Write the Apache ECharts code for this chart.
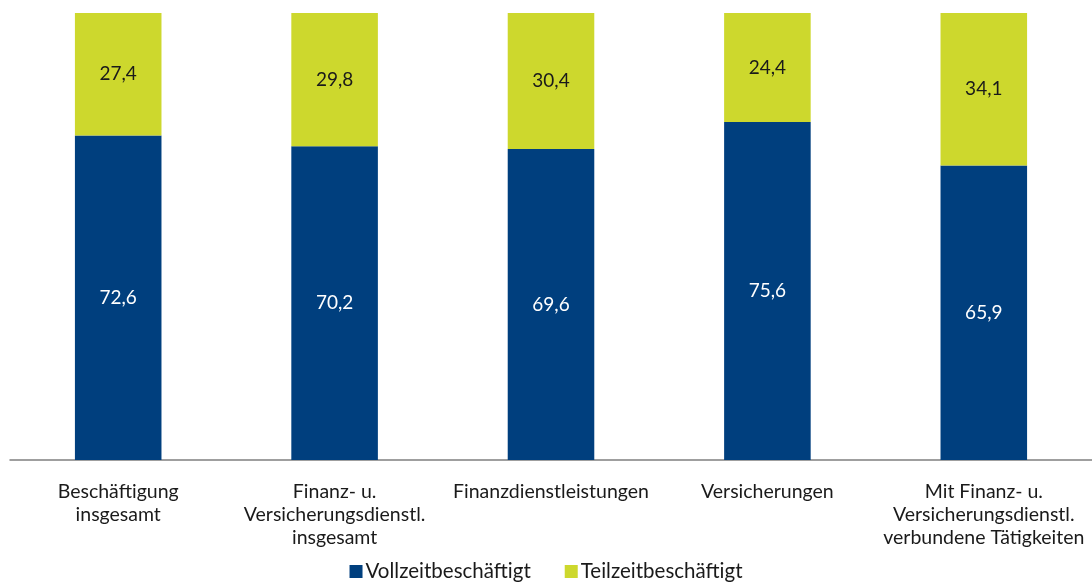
<!DOCTYPE html>
<html><head><meta charset="utf-8">
<script src="https://cdn.jsdelivr.net/npm/echarts@6/dist/echarts.min.js"></script>
<style>html,body{margin:0;padding:0;background:#fff}#c{width:1092px;height:584px}</style>
</head><body><div id="c"></div>
<script>
const categories = ["Beschäftigung\ninsgesamt", "Finanz- u.\nVersicherungsdienstl.\ninsgesamt", "Finanzdienstleistungen", "Versicherungen", "Mit Finanz- u.\nVersicherungsdienstl.\nverbundene Tätigkeiten"];
const vollzeit = [72.6, 70.2, 69.6, 75.6, 65.9];
const teilzeit = [27.4, 29.8, 30.4, 24.4, 34.1];
const seriesNames = ["Vollzeitbeschäftigt", "Teilzeitbeschäftigt"];
const fmt = p => p.value.toFixed(1).replace('.', ',');
const chart = echarts.init(document.getElementById('c'));
chart.setOption({
  animation: false,
  textStyle: { fontFamily: 'Lato' },
  grid: { left: 10, right: 0, top: 13, bottom: 124, containLabel: false },
  legend: {
    bottom: -3, left: 'center', itemWidth: 13, itemHeight: 13, itemGap: 34,
    icon: 'rect',
    textStyle: { fontSize: 20.5, color: '#1a1a1a', fontFamily: 'Lato', padding: [0, 0, 0, -2] },
    data: seriesNames
  },
  xAxis: {
    type: 'category', data: categories,
    axisLine: { lineStyle: { color: '#808080', width: 1.5 } },
    axisTick: { show: false },
    axisLabel: { fontSize: 19.5, color: '#1a1a1a', lineHeight: 23, margin: 20, interval: 0, fontFamily: 'Lato' }
  },
  yAxis: { type: 'value', min: 0, max: 100, show: false, splitLine: { show: false } },
  series: [
    { name: seriesNames[0], type: 'bar', stack: 's', data: vollzeit, barWidth: '40%',
      itemStyle: { color: '#003F7E' },
      label: { show: true, position: 'inside', color: '#ffffff', fontSize: 19, formatter: fmt } },
    { name: seriesNames[1], type: 'bar', stack: 's', data: teilzeit, barWidth: '40%',
      itemStyle: { color: '#CDD82D' },
      label: { show: true, position: 'inside', color: '#1a1a1a', fontSize: 19, formatter: fmt } }
  ]
});
</script></body></html>
